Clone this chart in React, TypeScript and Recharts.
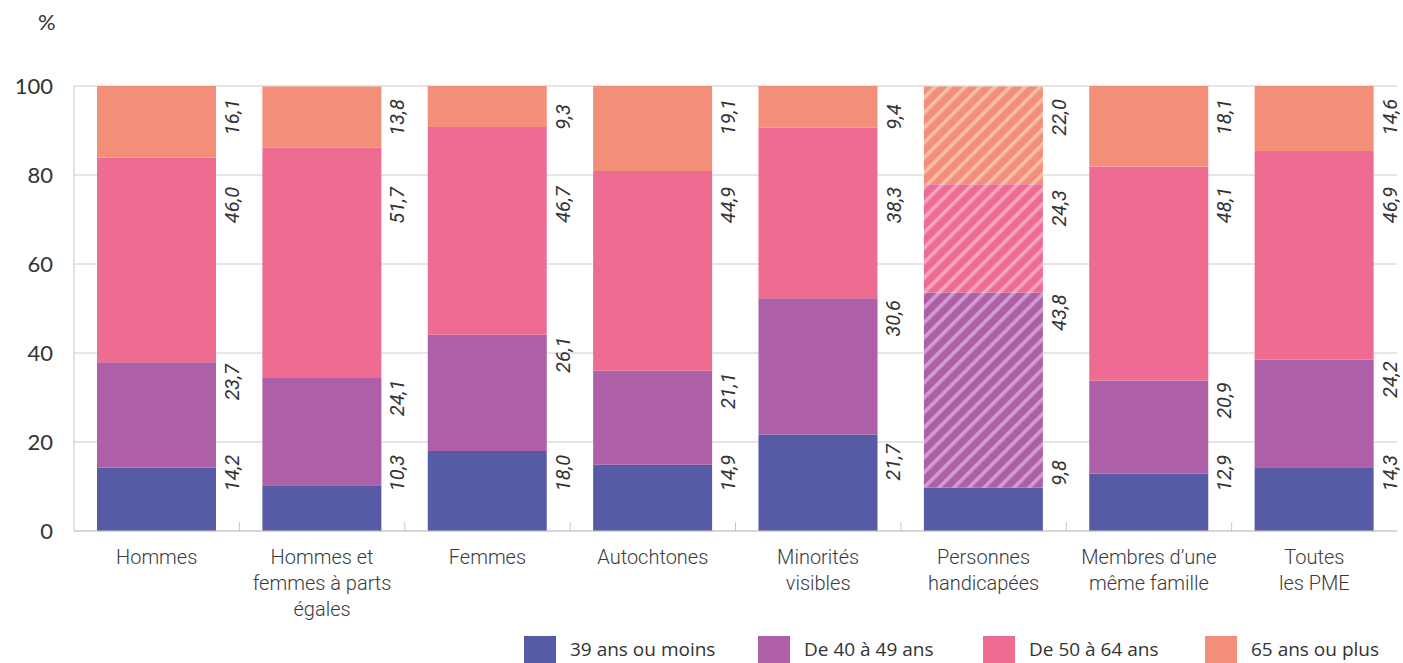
import React from 'react';
import { BarChart, Bar, XAxis, YAxis, CartesianGrid, LabelList, Cell } from 'recharts';

const categories = [
    'Hommes',
    'Hommes et\nfemmes à parts\négales',
    'Femmes',
    'Autochtones',
    'Minorités\nvisibles',
    'Personnes\nhandicapées',
    'Membres d’une\nmême famille',
    'Toutes\nles PME',
];

const age39 = [14.2, 10.3, 18.0, 14.9, 21.7, 9.8, 12.9, 14.3];
const age40 = [23.7, 24.1, 26.1, 21.1, 30.6, 43.8, 20.9, 24.2];
const age50 = [46.0, 51.7, 46.7, 44.9, 38.3, 24.3, 48.1, 46.9];
const age65 = [16.1, 13.8, 9.3, 19.1, 9.4, 22.0, 18.1, 14.6];

const yTicks = [0, 20, 40, 60, 80, 100];

// categorie dont les segments (sauf le premier) sont hachurés
const hatchedCategory = 'Personnes\nhandicapées';

const series = [
    { key: 'age39', name: '39 ans ou moins', color: '#575ba5', light: '', values: age39 },
    { key: 'age40', name: 'De 40 à 49 ans', color: '#ad5fa7', light: '#d49bcf', values: age40 },
    { key: 'age50', name: 'De 50 à 64 ans', color: '#ee6c91', light: '#f5a3c0', values: age50 },
    { key: 'age65', name: '65 ans ou plus', color: '#f38f78', light: '#f9bca7', values: age65 },
];

const data = categories.map((cat, i) => {
    const row: Record<string, string | number> = { cat };
    series.forEach((s) => { row[s.key] = s.values[i]; });
    return row;
});

const fmt = (v: number) => v.toFixed(1).replace('.', ',');

const PLOT_BOTTOM = 531;

const makeValueLabel = (si: number) => (props: any) => {
    const vb = props.viewBox || {};
    const x = Number(props.x ?? vb.x);
    const y = Number(props.y ?? vb.y);
    const w = Number(props.width ?? vb.width);
    const h = Number(props.height ?? vb.height);
    const value = Number(props.value);
    const top = Math.min(y, y + h);
    const hh = Math.abs(h);
    let cy = top + 24;
    if (si === 0) {
        cy = Math.min(top + 28, PLOT_BOTTOM - 58);
    } else if (si === 1) {
        cy = top + 20;
    } else if (si === 2) {
        // garder l'étiquette sous celle du segment du haut
        const pxPerUnit = hh / value;
        const plotTop = top - age65[props.index] * pxPerUnit;
        cy = Math.max(top + 24, plotTop + 119);
    } else {
        cy = top + 31;
    }
    const cx = x + w + 16;
    return (
        <text
            x={cx}
            y={cy}
            transform={`rotate(-90 ${cx} ${cy})`}
            textAnchor="middle"
            dominantBaseline="central"
            fontFamily="Roboto"
            fontStyle="italic"
            fontSize={20}
            fill="#333"
        >
            {fmt(value)}
        </text>
    );
};

const CategoryTick = (props: any) => {
    const { x, y, payload, index } = props;
    const lines = String(payload.value).split('\n');
    const half = payload.offset ?? 82.7;
    return (
        <g>
            {index < categories.length - 1 && (
                <line x1={x + half} x2={x + half} y1={y - 9} y2={y} stroke="#c8c8c8" strokeWidth={1} />
            )}
            <text x={x} y={y + 33} textAnchor="middle" fontFamily="Roboto" fontWeight={300} fontSize={20} fill="#3a3a3a">
                {lines.map((l, i) => (
                    <tspan key={i} x={x} dy={i === 0 ? 0 : 26}>{l}</tspan>
                ))}
            </text>
        </g>
    );
};

const legendX = [524, 758, 983, 1205];

const App: React.FC = () => {
    return (
        <div style={{ position: 'absolute', left: 0, top: 0, width: 1403, height: 663, background: '#fff', overflow: 'hidden' }}>
            <div style={{ position: 'absolute', left: 38, top: 8, fontFamily: 'Lato', fontSize: 22, color: '#333' }}>%</div>
            <BarChart
                width={1403}
                height={663}
                data={data}
                margin={{ top: 86, right: 6, left: 14, bottom: 72 }}
                barCategoryGap={0}
            >
                <defs>
                    {series.slice(1).map((s) => (
                        <pattern
                            key={s.key}
                            id={`hatch-${s.key}`}
                            patternUnits="userSpaceOnUse"
                            width={10.6}
                            height={10.6}
                            patternTransform="rotate(45)"
                        >
                            <rect x={0} y={0} width={10.6} height={10.6} fill={s.color} />
                            <rect x={0} y={0} width={3.6} height={10.6} fill={s.light} />
                        </pattern>
                    ))}
                </defs>
                <CartesianGrid vertical={false} stroke="#cccccc" />
                <XAxis
                    dataKey="cat"
                    interval={0}
                    tickLine={false}
                    tickSize={0}
                    tickMargin={0}
                    axisLine={{ stroke: '#c8c8c8' }}
                    tick={<CategoryTick />}
                    height={60}
                />
                <YAxis
                    domain={[0, 100]}
                    ticks={yTicks}
                    allowDataOverflow
                    width={60}
                    tickLine={false}
                    tickMargin={15}
                    axisLine={{ stroke: '#c8c8c8' }}
                    tick={{ fontFamily: 'Lato', fontSize: 22, fill: '#333' }}
                />
                {series.map((s, si) => (
                    <Bar key={s.key} dataKey={s.key} stackId="a" barSize={119} fill={s.color} isAnimationActive={false}>
                        {data.map((d) => (
                            <Cell
                                key={String(d.cat)}
                                fill={si > 0 && d.cat === hatchedCategory ? `url(#hatch-${s.key})` : s.color}
                            />
                        ))}
                        <LabelList dataKey={s.key} content={makeValueLabel(si)} />
                    </Bar>
                ))}
            </BarChart>
            {series.map((s, i) => (
                <div key={s.key} style={{ position: 'absolute', left: legendX[i], top: 636, display: 'flex', alignItems: 'flex-start' }}>
                    <div style={{ width: 32, height: 27, background: s.color }} />
                    <div style={{ marginLeft: 14, marginTop: 1, fontFamily: 'Open Sans', fontSize: 19, lineHeight: '24px', color: '#333', whiteSpace: 'nowrap' }}>
                        {s.name}
                    </div>
                </div>
            ))}
        </div>
    );
};

export default App;
